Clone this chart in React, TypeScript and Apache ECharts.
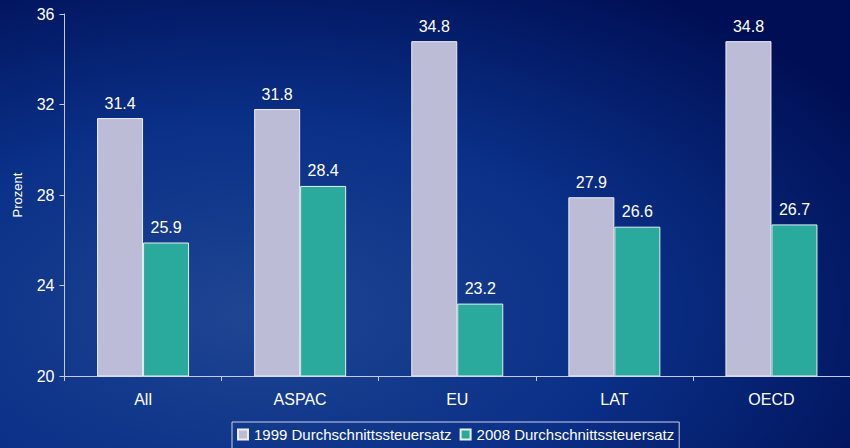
import React, { useEffect, useRef } from "react";
import * as echarts from "echarts";

const categories = ["All", "ASPAC", "EU", "LAT", "OECD"];
const series1999 = [31.4, 31.8, 34.8, 27.9, 34.8];
const series2008 = [25.9, 28.4, 23.2, 26.6, 26.7];
const seriesNames = ["1999 Durchschnittssteuersatz", "2008 Durchschnittssteuersatz"];
const yAxisName = "Prozent";

export default function App() {
  const ref = useRef<HTMLDivElement>(null);
  useEffect(() => {
    if (!ref.current) return;
    const chart = echarts.init(ref.current, undefined, { renderer: "svg" });
    const font = "Liberation Sans, Arial, sans-serif";
    const label = {
      show: true,
      position: "top",
      distance: 7,
      color: "#ffffff",
      fontSize: 16,
      fontFamily: font,
    };
    chart.setOption({
      animation: false,
      backgroundColor: new echarts.graphic.RadialGradient(0.3, 0.7, 0.85, [
        { offset: 0, color: "#1f4592" },
        { offset: 0.5, color: "#0a3088" },
        { offset: 1, color: "#000f55" },
      ]),
      textStyle: { fontFamily: font },
      grid: { left: 64.5, top: 14, width: 788, height: 362, containLabel: false },
      legend: {
        left: 232,
        top: 422,
        data: seriesNames,
        icon: "rect",
        itemWidth: 10,
        itemHeight: 10,
        itemGap: 8,
        padding: [5, 5, 8, 5],
        borderColor: "#d0d0e8",
        borderWidth: 1,
        textStyle: { color: "#ffffff", fontSize: 15, fontFamily: font, padding: [0, 0, 0, 1] },
      },
      xAxis: {
        type: "category",
        data: categories,
        axisLine: { lineStyle: { color: "#c8c8e0", width: 1 } },
        axisTick: { show: true, length: 5, lineStyle: { color: "#c8c8e0" }, inside: false },
        axisLabel: { color: "#ffffff", fontSize: 16, margin: 15, fontFamily: font },
      },
      yAxis: {
        type: "value",
        min: 20,
        max: 36,
        interval: 4,
        name: yAxisName,
        nameLocation: "middle",
        nameGap: 41,
        nameTextStyle: { color: "#ffffff", fontSize: 13, fontFamily: font },
        axisLine: { show: true, lineStyle: { color: "#c8c8e0", width: 1 } },
        axisTick: { show: true, length: 5, lineStyle: { color: "#c8c8e0" } },
        axisLabel: { color: "#ffffff", fontSize: 16, margin: 10, fontFamily: font },
        splitLine: { show: false },
      },
      series: [
        {
          name: seriesNames[0],
          type: "bar",
          data: series1999,
          barWidth: 46,
          barGap: "0%",
          itemStyle: { color: "#bcbcd6", borderColor: "#eeeef8", borderWidth: 1 },
          label,
        },
        {
          name: seriesNames[1],
          type: "bar",
          data: series2008,
          barWidth: 46,
          itemStyle: { color: "#2aaa9c", borderColor: "#e6f0f0", borderWidth: 1 },
          label,
        },
      ],
    });
    return () => chart.dispose();
  }, []);
  return (
    <div
      ref={ref}
      style={{ position: "absolute", left: 0, top: 0, width: 850, height: 448 }}
    />
  );
}
